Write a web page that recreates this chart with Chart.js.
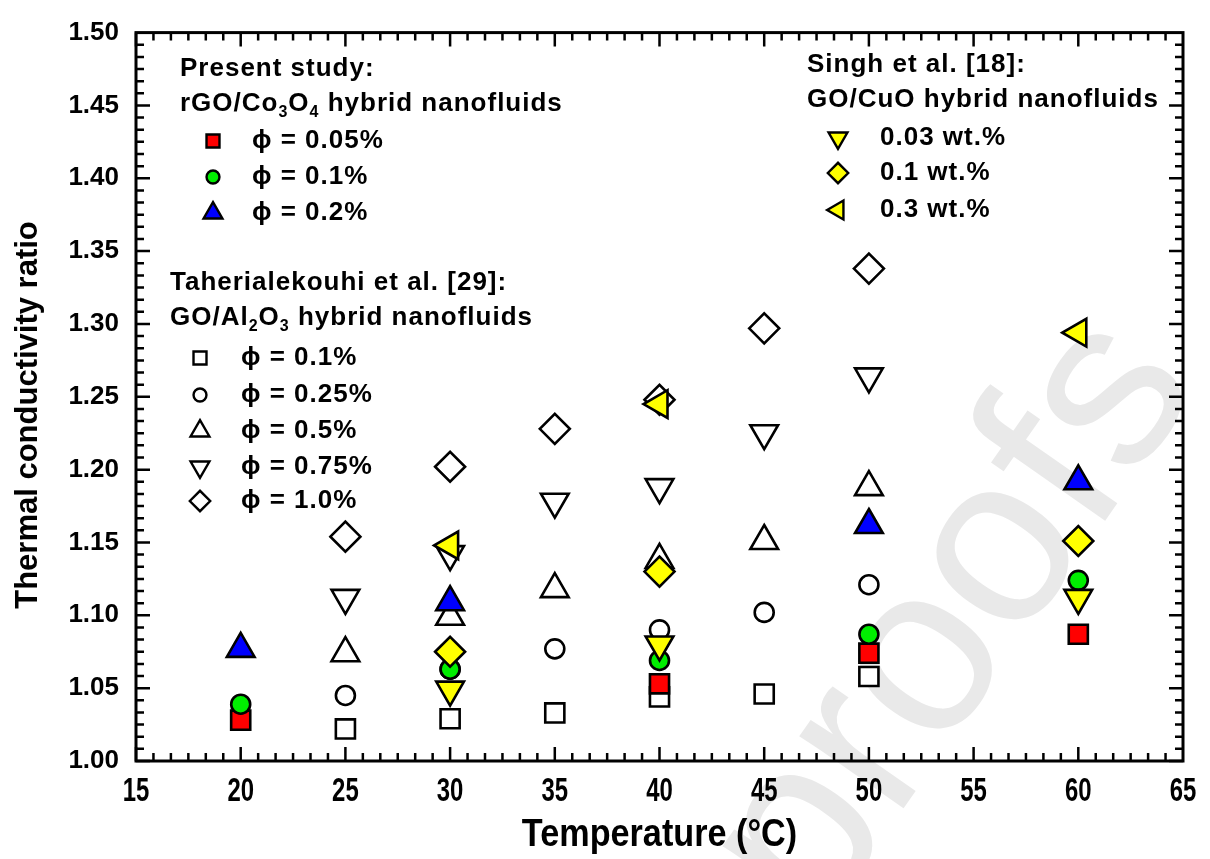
<!DOCTYPE html>
<html>
<head>
<meta charset="utf-8">
<script src="https://cdn.jsdelivr.net/npm/chart.js@4.4.0/dist/chart.umd.min.js"></script>
<style>
  html, body { margin: 0; padding: 0; background: #fff; }
  #wrap { width: 1210px; height: 859px; }
</style>
</head>
<body>
<div id="wrap"><canvas id="tc-chart" width="1210" height="859"></canvas></div>
<script>
// temperatures (deg C) and thermal conductivity ratios per series
var presentT005 = [20, 40, 50, 60];
var present005 = [1.028, 1.053, 1.074, 1.087];
var presentT01 = [20, 30, 40, 50, 60];
var present01 = [1.039, 1.063, 1.069, 1.087, 1.124];
var presentT02 = [20, 30, 50, 60];
var present02 = [1.077, 1.109, 1.162, 1.192];

var taherT = [25, 30, 35, 40, 45, 50];
var taher01 = [1.022, 1.029, 1.033, 1.044, 1.046, 1.058];
var taher025 = [1.045, 1.063, 1.077, 1.090, 1.102, 1.121];
var taher05 = [1.074, 1.099, 1.118, 1.138, 1.151, 1.188];
var taher075 = [1.112, 1.142, 1.178, 1.188, 1.225, 1.264];
var taher10 = [1.154, 1.202, 1.228, 1.248, 1.297, 1.338];

var singhT = [30, 40, 60];
var singh003 = [1.049, 1.080, 1.112];
var singh01 = [1.075, 1.130, 1.151];
var singh03 = [1.148, 1.245, 1.294];

var xTicks = [15, 20, 25, 30, 35, 40, 45, 50, 55, 60, 65];
var yTicks = [1.00, 1.05, 1.10, 1.15, 1.20, 1.25, 1.30, 1.35, 1.40, 1.45, 1.50];

var FONT = '"Liberation Sans", Arial, sans-serif';

function pts(ts, ks) {
    return ts.map(function(t, i) { return {x: t, y: ks[i]}; });
}

function series(label, ts, ks, style, rot, radius, fill, order) {
    return {
        label: label,
        data: pts(ts, ks),
        pointStyle: style,
        pointRotation: rot,
        pointRadius: radius,
        pointBackgroundColor: fill,
        pointBorderColor: '#000',
        pointBorderWidth: 2.6,
        order: order
    };
}

// faint watermark under everything
var watermark = {
    id: 'watermark',
    beforeDraw: function(chart) {
        var ctx = chart.ctx;
        ctx.save();
        ctx.translate(1200, 385);
        ctx.rotate(-55 * Math.PI / 180);
        ctx.font = '240px ' + FONT;
        ctx.fillStyle = '#e9e9e9';
        ctx.textAlign = 'right';
        ctx.textBaseline = 'alphabetic';
        ctx.fillText('Journal Pre-proofs', 0, 0);
        ctx.restore();
    }
};

// box, inward ticks on all four sides (5 minor ticks between majors),
// x tick labels and both axis titles in the tall condensed look
var frame = {
    id: 'frame',
    afterDatasetsDraw: function(chart) {
        var ctx = chart.ctx, a = chart.chartArea;
        var xs = chart.scales.x, ys = chart.scales.y;
        var i, p, len;
        ctx.save();
        ctx.strokeStyle = '#000';
        ctx.lineWidth = 2.5;
        ctx.beginPath();
        for (i = 0; i < xTicks.length - 1; i++) {
            for (var k = 0; k < 6; k++) {
                p = xs.getPixelForValue(xTicks[i] + k * (xTicks[i + 1] - xTicks[i]) / 6);
                len = k === 0 ? 14 : 8;
                ctx.moveTo(p, a.bottom); ctx.lineTo(p, a.bottom - len);
                ctx.moveTo(p, a.top); ctx.lineTo(p, a.top + len);
            }
        }
        for (i = 0; i < yTicks.length - 1; i++) {
            for (var m = 0; m < 6; m++) {
                p = ys.getPixelForValue(yTicks[i] + m * (yTicks[i + 1] - yTicks[i]) / 6);
                len = m === 0 ? 14 : 8;
                ctx.moveTo(a.left, p); ctx.lineTo(a.left + len, p);
                ctx.moveTo(a.right, p); ctx.lineTo(a.right - len, p);
            }
        }
        ctx.stroke();
        ctx.lineWidth = 3;
        ctx.strokeRect(a.left, a.top, a.right - a.left, a.bottom - a.top);

        ctx.fillStyle = '#000';
        ctx.textAlign = 'center';
        ctx.textBaseline = 'middle';
        ctx.font = 'bold 26px ' + FONT;
        xs.ticks.forEach(function(t) {
            ctx.save();
            ctx.translate(xs.getPixelForValue(t.value), a.bottom + 31);
            ctx.scale(0.92, 1.3);
            ctx.fillText(String(t.value), 0, 0);
            ctx.restore();
        });

        ctx.save();
        ctx.translate((a.left + a.right) / 2, 835);
        ctx.scale(0.95, 1.1);
        ctx.font = 'bold 36px ' + FONT;
        ctx.fillText('Temperature (\u00b0C)', 0, 0);
        ctx.restore();

        ctx.translate(28, 415);
        ctx.rotate(-Math.PI / 2);
        ctx.font = 'bold 31px ' + FONT;
        ctx.fillText('Thermal conductivity ratio', 0, 0);
        ctx.restore();
    }
};

// text pieces: [text, isSubscript]
function richText(ctx, parts, x, y, size) {
    parts.forEach(function(pt) {
        if (pt[1]) {
            ctx.font = 'bold ' + Math.round(size * 0.62) + 'px ' + FONT;
            ctx.fillText(pt[0], x, y + size * 0.33);
        } else {
            ctx.font = 'bold ' + size + 'px ' + FONT;
            ctx.fillText(pt[0], x, y);
        }
        x += ctx.measureText(pt[0]).width;
    });
}

// rows refer to dataset indices in the chart below
var legendGroups = [
    {x: 180, y: 69, markX: 213, textX: 252, rowY: [141, 177, 213], rows: [5, 4, 3],
     head: [[['Present study:', 0]], [['rGO/Co', 0], ['3', 1], ['O', 0], ['4', 1], [' hybrid nanofluids', 0]]]},
    {x: 807, y: 65, markX: 838, textX: 880, rowY: [138, 173, 210], rows: [2, 1, 0],
     head: [[['Singh et al. [18]:', 0]], [['GO/CuO hybrid nanofluids', 0]]]},
    {x: 170, y: 283, markX: 200, textX: 241, rowY: [358, 395, 431, 467, 501], rows: [10, 9, 8, 7, 6],
     head: [[['Taherialekouhi et al. [29]:', 0]], [['GO/Al', 0], ['2', 1], ['O', 0], ['3', 1], [' hybrid nanofluids', 0]]]}
];

var legendBox = {
    id: 'legendBox',
    afterDraw: function(chart) {
        var ctx = chart.ctx;
        ctx.save();
        ctx.textAlign = 'left';
        ctx.textBaseline = 'middle';
        ctx.letterSpacing = '1px';
        legendGroups.forEach(function(g) {
            ctx.fillStyle = '#000';
            g.head.forEach(function(line, li) {
                richText(ctx, line, g.x, g.y + li * 35, 26);
            });
            g.rows.forEach(function(di, r) {
                var ds = chart.data.datasets[di];
                ctx.fillStyle = ds.pointBackgroundColor;
                ctx.strokeStyle = '#000';
                ctx.lineWidth = 2.4;
                Chart.helpers.drawPoint(ctx, {
                    pointStyle: ds.pointStyle,
                    rotation: ds.pointRotation,
                    radius: ds.pointRadius * 0.68,
                    borderWidth: 2.4
                }, g.markX, g.rowY[r]);
                ctx.fillStyle = '#000';
                ctx.font = 'bold 26px ' + FONT;
                ctx.fillText(ds.label, g.textX, g.rowY[r]);
            });
        });
        ctx.restore();
    }
};

var ctx = document.getElementById('tc-chart');
var chart = new Chart(ctx, {
    type: 'scatter',
    data: {
        datasets: [
            series('0.3 wt.%', singhT, singh03, 'triangle', -90, 16, '#ffff00', 0),
            series('0.1 wt.%', singhT, singh01, 'rectRot', 0, 15, '#ffff00', 1),
            series('0.03 wt.%', singhT, singh003, 'triangle', 180, 16, '#ffff00', 2),
            series('\u03d5 = 0.2%', presentT02, present02, 'triangle', 0, 16, '#0000ff', 3),
            series('\u03d5 = 0.1%', presentT01, present01, 'circle', 0, 9.5, '#00ee00', 4),
            series('\u03d5 = 0.05%', presentT005, present005, 'rect', 0, 13.5, '#ff0000', 5),
            series('\u03d5 = 1.0%', taherT, taher10, 'rectRot', 0, 15, '#ffffff', 6),
            series('\u03d5 = 0.75%', taherT, taher075, 'triangle', 180, 16, '#ffffff', 7),
            series('\u03d5 = 0.5%', taherT, taher05, 'triangle', 0, 16, '#ffffff', 8),
            series('\u03d5 = 0.25%', taherT, taher025, 'circle', 0, 9.5, '#ffffff', 9),
            series('\u03d5 = 0.1%', taherT, taher01, 'rect', 0, 13.5, '#ffffff', 10)
        ]
    },
    options: {
        responsive: false,
        animation: false,
        events: [],
        layout: {padding: {left: 0, right: 27, top: 25, bottom: 0}, autoPadding: false},
        plugins: {legend: {display: false}, tooltip: {enabled: false}},
        scales: {
            x: {
                type: 'linear', min: 15, max: 65,
                afterBuildTicks: function(s) { s.ticks = xTicks.map(function(v) { return {value: v}; }); },
                afterFit: function(s) { s.height = 98; },
                grid: {display: false, drawTicks: false},
                border: {display: false},
                ticks: {display: false}
            },
            y: {
                type: 'linear', min: 1.0, max: 1.5,
                afterBuildTicks: function(s) { s.ticks = yTicks.map(function(v) { return {value: v}; }); },
                afterFit: function(s) { s.width = 136; },
                grid: {display: false, drawTicks: false},
                border: {display: false},
                ticks: {color: '#000', padding: 17, font: {family: FONT, weight: 'bold', size: 26},
                        callback: function(v) { return v.toFixed(2); }}
            }
        }
    },
    plugins: [watermark, frame, legendBox]
});
</script>
</body>
</html>
